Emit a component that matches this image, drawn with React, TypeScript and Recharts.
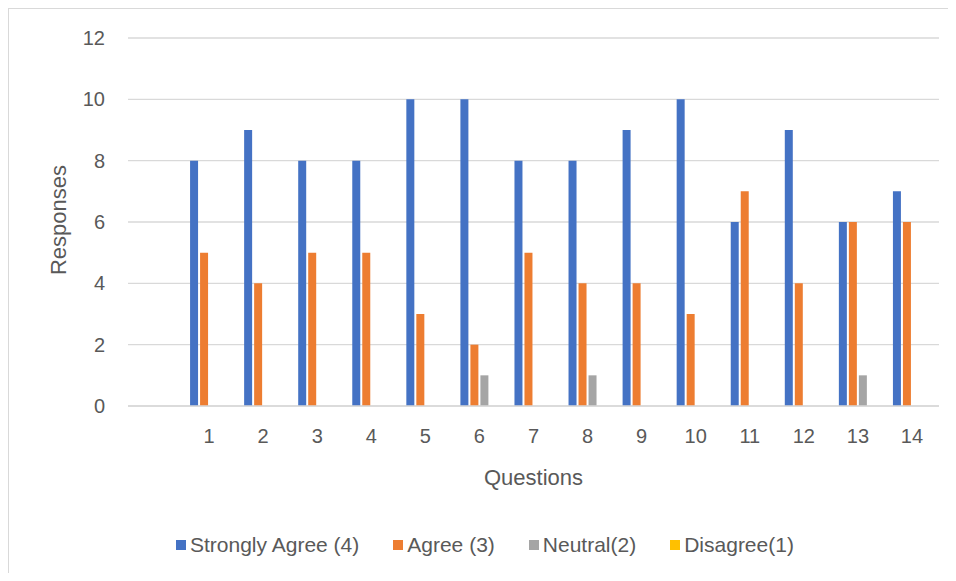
import { BarChart, Bar, XAxis, YAxis, CartesianGrid, Legend } from 'recharts';

const questions = ['', '1', '2', '3', '4', '5', '6', '7', '8', '9', '10', '11', '12', '13', '14'];
const stronglyAgree = [null, 8, 9, 8, 8, 10, 10, 8, 8, 9, 10, 6, 9, 6, 7];
const agree = [null, 5, 4, 5, 5, 3, 2, 5, 4, 4, 3, 7, 4, 6, 6];
const neutral = [null, 0, 0, 0, 0, 0, 1, 0, 1, 0, 0, 0, 0, 1, 0];
const disagree = [null, 0, 0, 0, 0, 0, 0, 0, 0, 0, 0, 0, 0, 0, 0];
const yTicks = [0, 2, 4, 6, 8, 10, 12];

const series = [
  { key: 'sa', name: 'Strongly Agree (4)', color: '#4472C4' },
  { key: 'a', name: 'Agree (3)', color: '#ED7D31' },
  { key: 'n', name: 'Neutral(2)', color: '#A5A5A5' },
  { key: 'd', name: 'Disagree(1)', color: '#FFC000' }
];

const data = questions.map((q, i) => ({
  q,
  sa: stronglyAgree[i],
  a: agree[i],
  n: neutral[i],
  d: disagree[i]
}));

const FONT = "'Liberation Sans', Arial, sans-serif";
const TEXT = '#595959';
const GRID = '#d9d9d9';

const renderLegend = () => (
  <div style={{ display: 'flex', alignItems: 'center', paddingLeft: 167, fontFamily: FONT, fontSize: 21, lineHeight: '21px', color: TEXT }}>
    {series.map((s, i) => (
      <div key={s.key} style={{ display: 'flex', alignItems: 'center', marginLeft: i === 0 ? 0 : 34 }}>
        <div style={{ width: 10, height: 10, backgroundColor: s.color, marginRight: 4 }} />
        <span style={{ whiteSpace: 'nowrap' }}>{s.name}</span>
      </div>
    ))}
  </div>
);

const App = () => {
  return (
    <div style={{ width: 939, height: 564, borderLeft: `1px solid ${GRID}`, borderTop: `1px solid ${GRID}`, background: '#fff' }}>
      <BarChart
        width={939}
        height={564}
        data={data}
        margin={{ top: 29, right: 9, bottom: 86, left: 0 }}
        barSize={8}
        barGap={2}
      >
        <CartesianGrid vertical={false} stroke={GRID} strokeWidth={1.3} />
        <XAxis
          dataKey="q"
          height={60}
          tickLine={false}
          tickSize={0}
          tickMargin={23}
          axisLine={{ stroke: GRID, strokeWidth: 1.3 }}
          tick={{ fill: TEXT, fontSize: 20, fontFamily: FONT }}
          interval={0}
          label={{
            content: () => (
              <text x={524.5} y={476} textAnchor="middle" fill={TEXT} fontSize={22} fontFamily={FONT}>
                Questions
              </text>
            )
          }}
        />
        <YAxis
          width={119}
          domain={[0, 12]}
          ticks={yTicks}
          axisLine={false}
          tickLine={false}
          tickSize={0}
          tickMargin={23}
          tick={{ fill: TEXT, fontSize: 20, fontFamily: FONT }}
          label={{
            content: () => (
              <text x={57} y={211} transform="rotate(-90 57 211)" textAnchor="middle" fill={TEXT} fontSize={22} fontFamily={FONT}>
                Responses
              </text>
            )
          }}
        />
        <Legend content={renderLegend} wrapperStyle={{ position: 'absolute', top: 525, left: 0, width: 939 }} />
        {series.map((s) => (
          <Bar key={s.key} dataKey={s.key} name={s.name} fill={s.color} isAnimationActive={false} />
        ))}
      </BarChart>
    </div>
  );
};

export default App;
